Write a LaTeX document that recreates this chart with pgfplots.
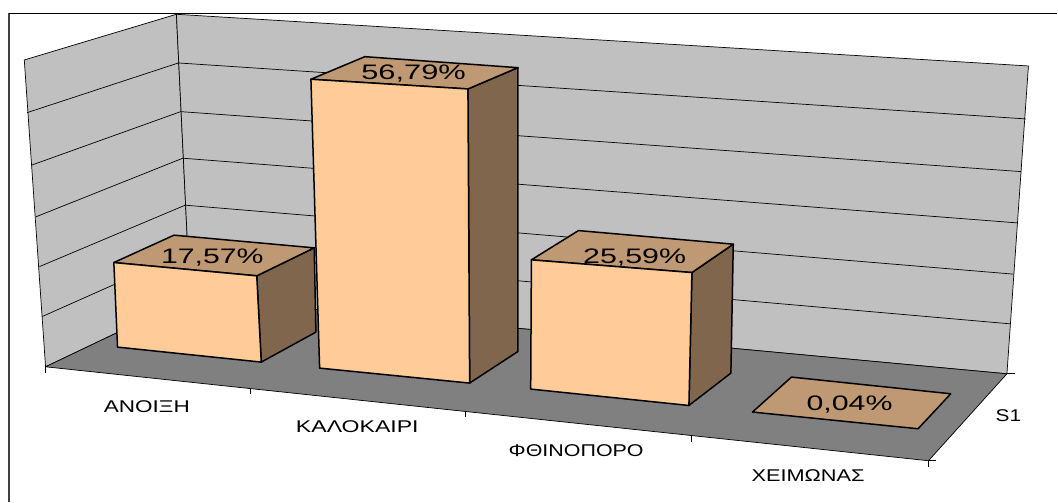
\documentclass[border=0pt]{standalone}
\usepackage{fontspec}
\setmainfont{Liberation Sans}
\usepackage{pgfplots}
\usepackage{graphicx}
\pgfplotsset{compat=1.18}
\definecolor{wall}{HTML}{C0C0C0}
\definecolor{floorc}{HTML}{808080}
\definecolor{front}{HTML}{FFCC99}
\definecolor{topc}{HTML}{BF9973}
\definecolor{sidec}{HTML}{80664D}
\newcommand{\val}[4]{\node[anchor=base,inner sep=0pt,text=black,font=\fontsize{21}{21}\selectfont] at (axis cs:#1,#2) {\resizebox{#3pt}{\height}{#4}};}
\newcommand{\cat}[4]{\node[anchor=base,inner sep=0pt,text=black,font=\fontsize{17}{17}\selectfont] at (axis cs:#1,#2) {\resizebox{#3pt}{\height}{#4}};}
\pgfplotsset{
  wallp/.style={fill=wall,draw=black,line width=0.7pt,line join=round},
  gridl/.style={draw=black,line width=0.7pt},
  facef/.style={fill=front,draw=black,line width=1.5pt,line join=round},
  facet/.style={fill=topc,draw=black,line width=1.5pt,line join=round},
  faces/.style={fill=sidec,draw=black,line width=1.5pt,line join=round},
}
\begin{document}
\begin{tikzpicture}
\begin{axis}[
  width=1058pt,height=502pt,scale only axis,
  xmin=0,xmax=1058,ymin=0,ymax=502,y dir=reverse,
  axis lines=none,clip=false,
]
% page
\addplot[fill=white,draw=none] coordinates {(0,0)(1058,0)(1058,502)(0,502)} --cycle;
% frame
\addplot[draw=black!75,line width=2pt] coordinates {(9,502)(9,13.3)};
\addplot[draw=black,line width=1.2pt] coordinates {(9,13.3)(1058,13.3)};
% walls
\addplot[wallp] coordinates {(24.3,60)(176.5,14.3)(190.2,298)(45.6,367)} --cycle;
\addplot[wallp] coordinates {(176.5,14.3)(1029,66)(1007.5,374)(190.2,298)} --cycle;
% left wall grid
\addplot[gridl] coordinates {(27.1,112.7)(178.5,63)};
\addplot[gridl] coordinates {(31.4,165.3)(180.8,111.7)};
\addplot[gridl] coordinates {(35.8,217)(182.9,158.3)};
\addplot[gridl] coordinates {(39.6,266.7)(185.3,205.3)};
\addplot[gridl] coordinates {(42.3,316.7)(187.6,252)};
% back wall grid
\addplot[gridl] coordinates {(178.5,63)(1026.7,119)};
\addplot[gridl] coordinates {(180.8,111.7)(1021.6,171.7)};
\addplot[gridl] coordinates {(182.9,158.3)(1017.6,223)};
\addplot[gridl] coordinates {(185.3,205.3)(1014.1,274.3)};
\addplot[gridl] coordinates {(187.6,252)(1010.5,324)};
% floor
\addplot[fill=floorc,draw=black,line width=0.7pt,line join=round] coordinates {(45.6,367)(190.2,298)(1007.5,374)(929,461)} --cycle;
% ticks
\addplot[gridl] coordinates {(45.6,367)(45.6,373)};
\addplot[gridl] coordinates {(250.5,388.5)(250.5,394.5)};
\addplot[gridl] coordinates {(465.8,411)(465.8,417)};
\addplot[gridl] coordinates {(691.6,436)(691.6,442)};
\addplot[gridl] coordinates {(929,461)(929,467)};
\addplot[gridl] coordinates {(1007.5,374)(1015.5,374)};
\addplot[gridl] coordinates {(929,461)(937,461)};
% ANOIXI 17,57
\addplot[faces] coordinates {(256.9,276)(314.4,248)(316.1,332.3)(261.4,362.3)} --cycle;
\addplot[facet] coordinates {(113.9,262.7)(174.1,235.3)(314.4,248)(256.9,276)} --cycle;
\addplot[facef] coordinates {(113.9,262.7)(256.9,276)(261.4,362.3)(117.6,347.3)} --cycle;
% KALOKAIRI 56,79
\addplot[faces] coordinates {(468.2,89)(518.2,67.7)(518.2,351.7)(469.9,383.3)} --cycle;
\addplot[facet] coordinates {(311.1,79.3)(365.1,56.7)(518.2,67.7)(468.2,89)} --cycle;
\addplot[facef] coordinates {(311.1,79.3)(468.2,89)(469.9,383.3)(319.8,368.3)} --cycle;
% FTHINOPORO 25,59
\addplot[faces] coordinates {(692.3,272.7)(733.7,244.3)(731.3,373.3)(689.3,405.7)} --cycle;
\addplot[facet] coordinates {(531.7,260)(578.8,230.7)(733.7,244.3)(692.3,272.7)} --cycle;
\addplot[facef] coordinates {(531.7,260)(692.3,272.7)(689.3,405.7)(531,389.3)} --cycle;
% XEIMONAS 0,04
\addplot[facet] coordinates {(791.9,377.3)(951.3,394)(918.6,429)(752.9,412.3)} --cycle;
% labels
\val{212.5}{263.3}{102.5}{17,57\%}
\val{413.8}{80}{104.5}{56,79\%}
\val{635}{263.3}{103}{25,59\%}
\val{850}{410.7}{86}{0,04\%}
\cat{147}{412.3}{86}{ΑΝΟΙΞΗ}
\cat{357.5}{432.7}{122.7}{ΚΑΛΟΚΑΙΡΙ}
\cat{576.5}{456.7}{135}{ΦΘΙΝΟΠΟΡΟ}
\cat{808.5}{481.7}{113}{ΧΕΙΜΩΝΑΣ}
\cat{1009}{421.3}{25.5}{S1}
\end{axis}
\end{tikzpicture}
\end{document}
